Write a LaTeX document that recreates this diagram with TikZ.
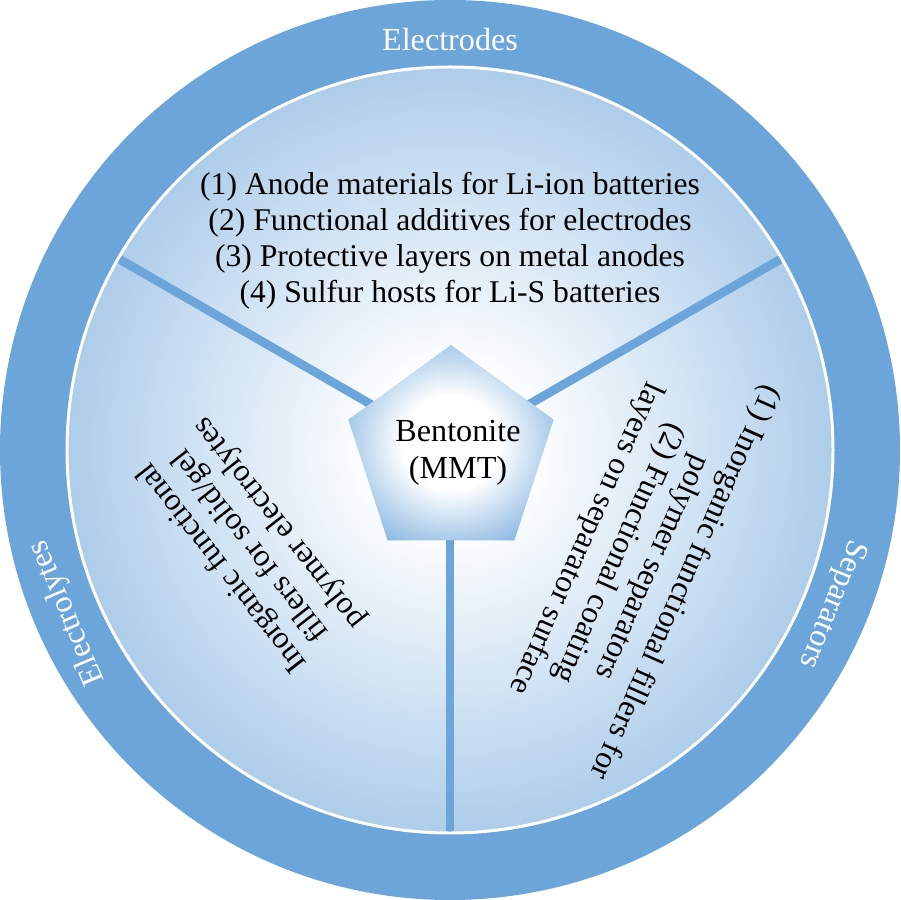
\documentclass[tikz,border=0pt]{standalone}
\usepackage{fontspec}
\setmainfont{Liberation Serif}
\usetikzlibrary{shapes.geometric}
\definecolor{ringblue}{RGB}{108,165,218}
\definecolor{edgeblue}{RGB}{92,155,213}
\pgfdeclareradialshading{diskshade}{\pgfpoint{0bp}{0bp}}{color(0bp)=(white); color(5bp)=(white); color(27bp)=(edgeblue!55!white); color(46bp)=(edgeblue); color(100bp)=(edgeblue)}
\pgfdeclareradialshading{pentshade}{\pgfpoint{0bp}{0bp}}{color(0bp)=(white); color(12bp)=(white); color(34bp)=(ringblue); color(100bp)=(ringblue)}

\begin{document}
\begin{tikzpicture}[scale=0.02]
\tikzstyle{every node}+=[inner sep=0pt]
\tikzstyle{spoke}=[ringblue, line width=5pt]
\tikzstyle{ringlabel}=[white, font=\fontsize{18.3}{21}\selectfont]
\tikzstyle{usetext}=[black, align=center, font=\fontsize{18}{20.5}\selectfont]
\useasboundingbox (-450,-450) rectangle (450,450);
\fill [ringblue] (0,0) circle (450);
\shade [shading=diskshade] (0,0) circle (383);
\coordinate (c) at (0,0);
\coordinate (e1) at (30:383);
\coordinate (e2) at (150:383);
\coordinate (e3) at (270:383);
\draw [spoke] (c) -- (e1);
\draw [spoke] (c) -- (e2);
\draw [spoke] (c) -- (e3);
\draw [white, line width=1.7pt] (0,0) circle (383);
\node [regular polygon, regular polygon sides=5, minimum size=4.32cm, shade, shading=pentshade] (mmt) at (1,-3) {};
\node [align=center, font=\fontsize{18.3}{21}\selectfont] (mmttext) at (8,-3) {Bentonite\\(MMT)};
\node [usetext] (electrodes) at (0,209) {(1) Anode materials for Li-ion batteries\\(2) Functional additives for electrodes\\(3) Protective layers on metal anodes\\(4) Sulfur hosts for Li-S batteries};
\node [usetext, rotate=-114] (separators) at (185,-110) {(1) Inorganic functional fillers for\\polymer separators\\(2) Functional coating\\layers on separator surface};
\node [usetext, rotate=128] (electrolytes) at (-199,-95) {Inorganic functional\\fillers for solid/gel\\polymer electrolytes};
\node [ringlabel] (ltop) at (0,410) {Electrodes};
\node [ringlabel, rotate=-112] (lright) at (-22:412) {Separators};
\node [ringlabel, rotate=113] (lleft) at (203:416) {Electrolytes};
\end{tikzpicture}
\end{document}
